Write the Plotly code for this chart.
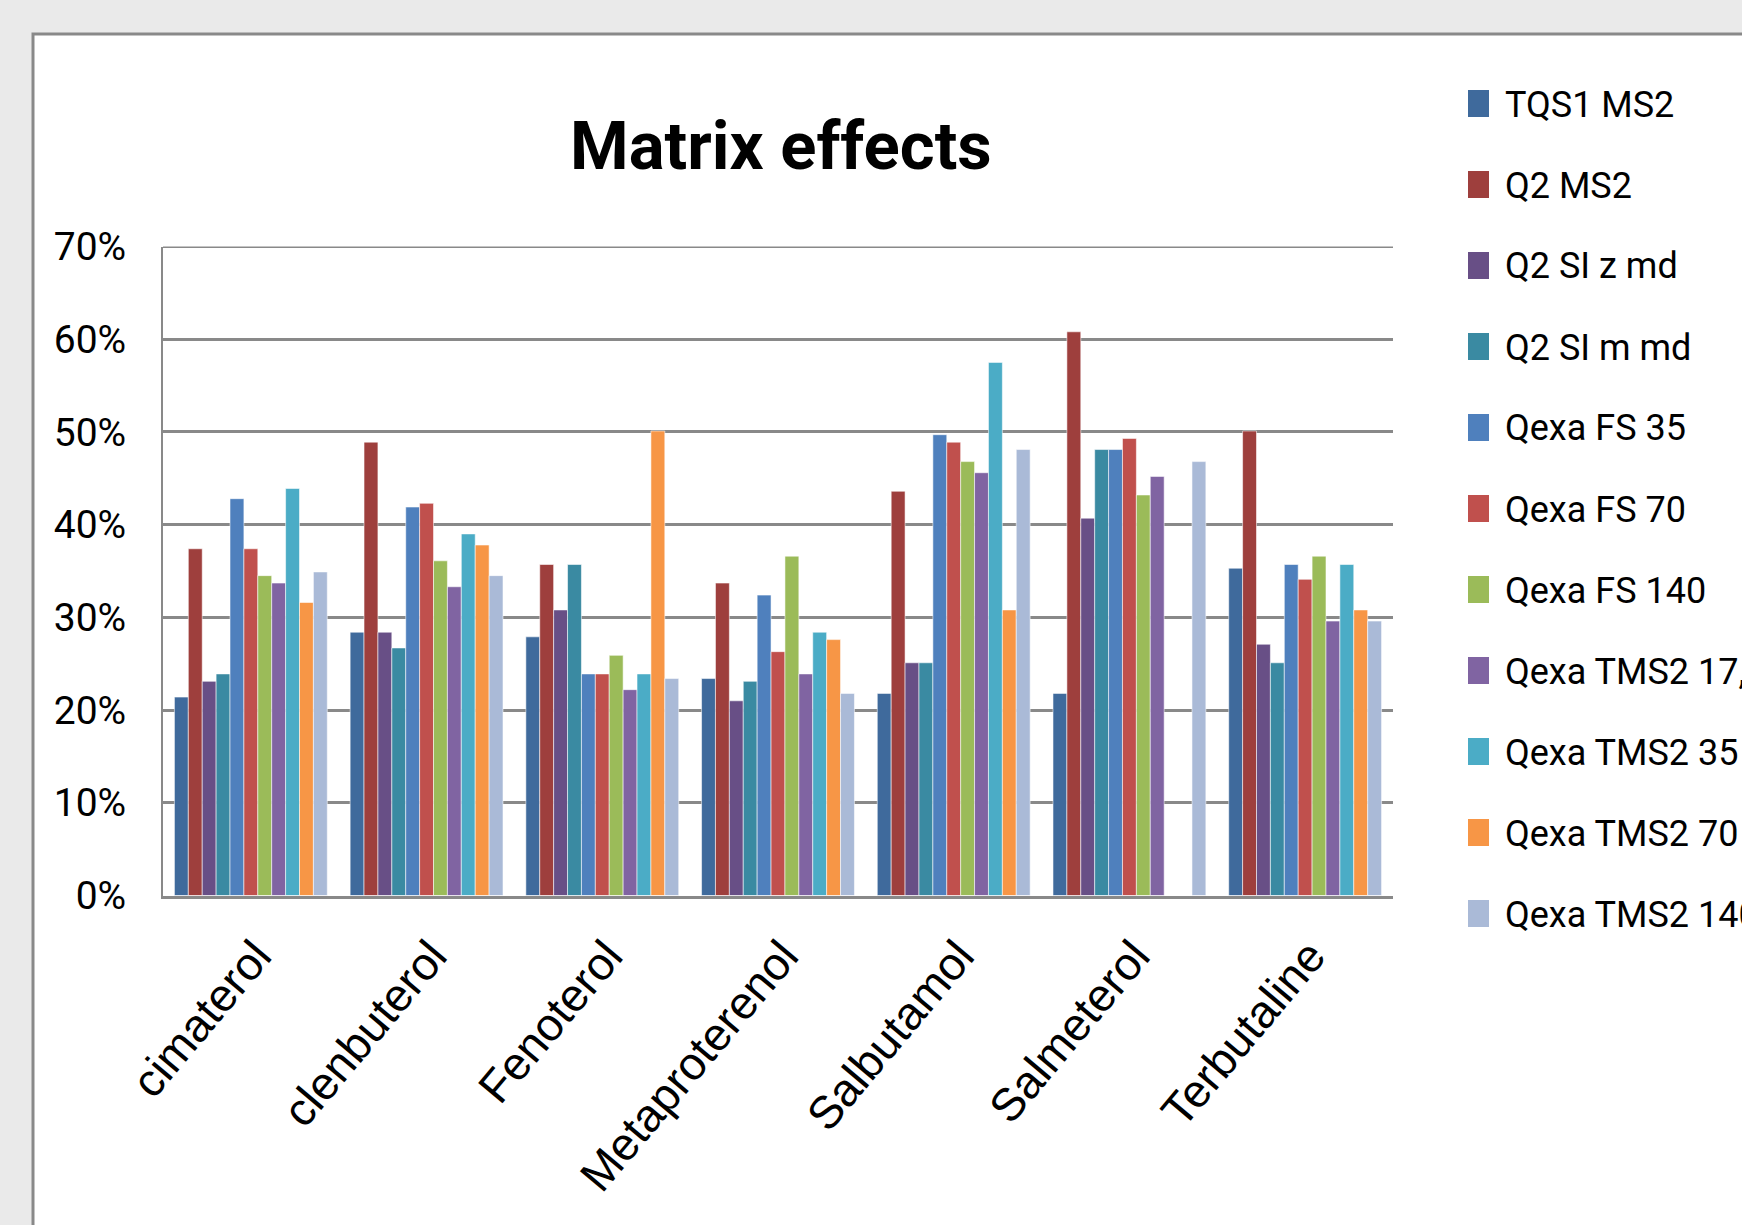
import plotly.graph_objects as go

# Compounds on the x axis
compounds = ["cimaterol", "clenbuterol", "Fenoterol", "Metaproterenol",
             "Salbutamol", "Salmeterol", "Terbutaline"]

# Matrix effect (fraction) per acquisition mode, one value per compound
tqs1_ms2     = [0.214, 0.284, 0.279, 0.234, 0.218, 0.218, 0.353]
q2_ms2       = [0.374, 0.489, 0.357, 0.337, 0.436, 0.608, 0.501]
q2_si_z_md   = [0.231, 0.284, 0.308, 0.210, 0.251, 0.407, 0.271]
q2_si_m_md   = [0.239, 0.267, 0.357, 0.231, 0.251, 0.481, 0.251]
qexa_fs_35   = [0.428, 0.419, 0.239, 0.324, 0.497, 0.481, 0.357]
qexa_fs_70   = [0.374, 0.423, 0.239, 0.263, 0.489, 0.493, 0.341]
qexa_fs_140  = [0.345, 0.361, 0.259, 0.366, 0.468, 0.432, 0.366]
qexa_tms2_17 = [0.337, 0.333, 0.222, 0.239, 0.456, 0.452, 0.296]
qexa_tms2_35 = [0.439, 0.390, 0.239, 0.284, 0.575, None,  0.357]
qexa_tms2_70 = [0.316, 0.378, 0.501, 0.276, 0.308, None,  0.308]
qexa_tms2_140 = [0.349, 0.345, 0.234, 0.218, 0.481, 0.468, 0.296]

series_names = ["TQS1 MS2", "Q2 MS2", "Q2 SI z md", "Q2 SI m md", "Qexa FS 35",
                "Qexa FS 70", "Qexa FS 140", "Qexa TMS2 17,5", "Qexa TMS2 35",
                "Qexa TMS2 70", "Qexa TMS2 140"]
series_values = [tqs1_ms2, q2_ms2, q2_si_z_md, q2_si_m_md, qexa_fs_35, qexa_fs_70,
                 qexa_fs_140, qexa_tms2_17, qexa_tms2_35, qexa_tms2_70, qexa_tms2_140]
series_colors = ["#3F6A9C", "#9E3F3D", "#684F86", "#3A8AA2", "#4F80BD", "#C0504D",
                 "#9BBB59", "#8064A2", "#4BACC6", "#F79646", "#AABAD7"]

Y_MAX = 0.7

W, H = 1742, 1225
NARROW = "Roboto, Liberation Sans, sans-serif"
REGULAR = "Liberation Sans, Arial, sans-serif"
GRID = "#898989"


def px_x(x):
    return x / W


def px_y(y):
    return 1 - y / H


fig = go.Figure()
for name, vals, col in zip(series_names, series_values, series_colors):
    fig.add_trace(go.Bar(
        name=name, x=compounds, y=vals,
        marker=dict(color=col, line=dict(color="rgba(255,255,255,0.55)", width=1)),
        showlegend=False,
    ))

# White chart area with a grey frame on the grey page
shapes = [dict(type="rect", xref="paper", yref="paper", layer="below",
               x0=px_x(33), x1=1.05, y0=-0.05, y1=px_y(34),
               fillcolor="white", line=dict(color=GRID, width=3)),
          # gridline at the top of the value range
          dict(type="line", xref="x domain", yref="y", x0=0, x1=1, y0=Y_MAX, y1=Y_MAX,
               layer="below", line=dict(color=GRID, width=3))]
annotations = [dict(text="<b>Matrix effects</b>", xref="paper", yref="paper",
                    x=px_x(781), y=px_y(146), xanchor="center", yanchor="middle",
                    showarrow=False, font=dict(family=NARROW, size=67, color="black"))]

# Legend drawn as colour swatches and labels
for i, (name, col) in enumerate(zip(series_names, series_colors)):
    cy = 103.5 + i * 81
    shapes.append(dict(type="rect", xref="paper", yref="paper",
                       x0=px_x(1468), x1=px_x(1489), y0=px_y(cy + 13.5), y1=px_y(cy - 13.5),
                       fillcolor=col, line=dict(width=0)))
    annotations.append(dict(text=name, xref="paper", yref="paper",
                            x=px_x(1503), y=px_y(cy + 1), xanchor="left", yanchor="middle",
                            showarrow=False, font=dict(family=NARROW, size=36, color="black")))

fig.update_layout(
    width=W, height=H,
    margin=dict(l=0, r=0, t=0, b=0),
    paper_bgcolor="#EAEAEA",
    plot_bgcolor="white",
    barmode="group",
    bargap=0.13,
    bargroupgap=0,
    shapes=shapes,
    annotations=annotations,
    xaxis=dict(
        domain=[px_x(163), px_x(1393)], automargin=False,
        showgrid=False, showline=True, linecolor=GRID, linewidth=3,
        ticks="", tickangle=-50, ticklabelstandoff=12, ticklabelshift=5,
        tickfont=dict(family=REGULAR, size=46, color="black"),
    ),
    yaxis=dict(
        domain=[px_y(895.5), px_y(246.5)], automargin=False,
        range=[0, Y_MAX], dtick=0.1, tickformat=".0%",
        showgrid=True, gridcolor=GRID, gridwidth=3,
        zeroline=False, showline=True, linecolor=GRID, linewidth=2,
        ticks="", ticklabelstandoff=27,
        tickfont=dict(family=NARROW, size=39, color="black"),
    ),
)

fig.write_html("out.html")
